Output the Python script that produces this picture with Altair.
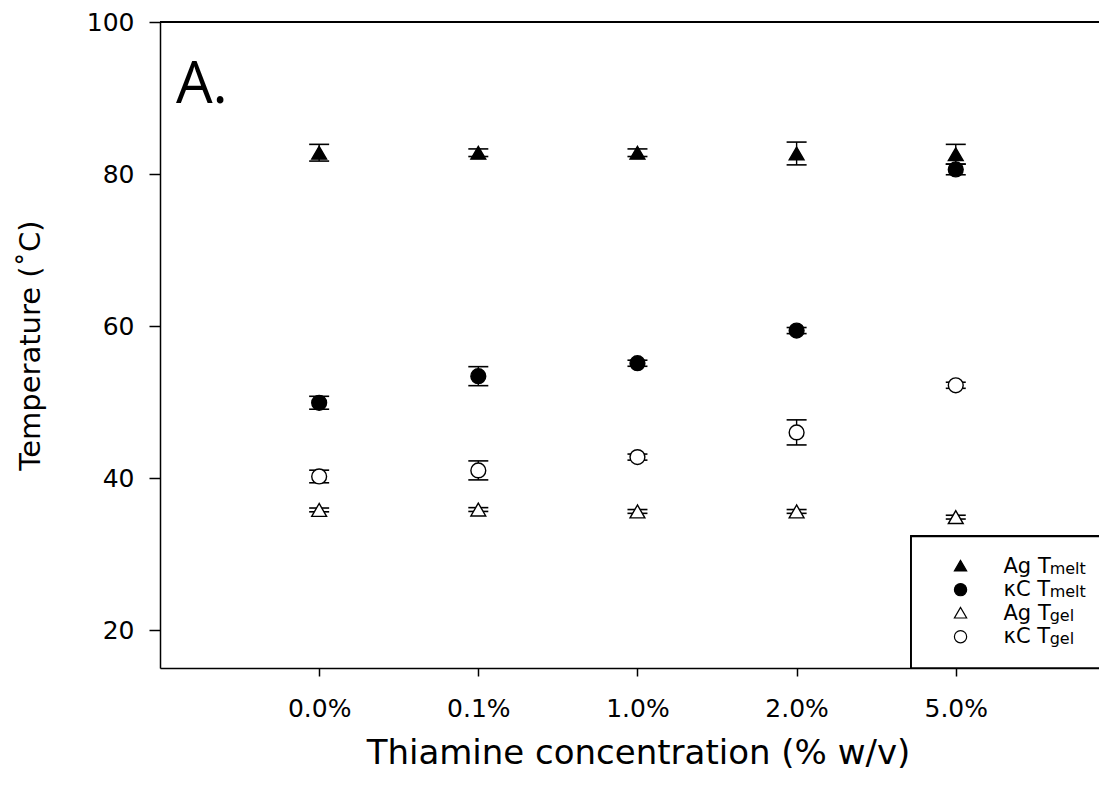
import altair as alt
import pandas as pd

# ---------------- data ----------------
categories = ["0.0%", "0.1%", "1.0%", "2.0%", "5.0%"]
series_names = ["Ag Tmelt", "κC Tmelt", "Ag Tgel", "κC Tgel"]

ag_tmelt = [82.8, 82.8, 82.8, 82.7, 82.6]
ag_tmelt_err = [1.1, 0.5, 0.5, 1.5, 1.3]
kc_tmelt = [49.9, 53.4, 55.1, 59.4, 80.6]
kc_tmelt_err = [0.85, 1.25, 0.4, 0.4, 0.7]
ag_tgel = [35.8, 35.85, 35.6, 35.6, 34.85]
ag_tgel_err = [0.25, 0.25, 0.25, 0.25, 0.25]
kc_tgel = [40.2, 41.0, 42.75, 46.0, 52.2]
kc_tgel_err = [0.83, 1.25, 0.4, 1.65, 0.4]

series_shapes = ["triangle-up", "circle", "triangle-up", "circle"]
series_fills = ["black", "black", "white", "white"]

legend_main = ["Ag T", "κC T", "Ag T", "κC T"]
legend_sub = ["melt", "melt", "gel", "gel"]
legend_sym_x = 4.03
legend_text_x = 4.30
legend_sub_x = 4.59
legend_sym_y = [28.47, 25.31, 22.28, 19.12]
legend_base_y = [27.55, 24.45, 21.36, 18.26]
legend_box = {"x": 3.72, "x2": 5.3, "y": 32.3, "y2": 15}

panel_label = "A."
panel_pos = {"x": -0.9, "y": 89.4}

x_domain = [-1, 4.9]
y_domain = [15, 100]
y_ticks = [20, 40, 60, 80, 100]

# ---------------- tables ----------------
rows = []
for name, vals, errs in zip(series_names,
                            [ag_tmelt, kc_tmelt, ag_tgel, kc_tgel],
                            [ag_tmelt_err, kc_tmelt_err, ag_tgel_err, kc_tgel_err]):
    for i, (v, e) in enumerate(zip(vals, errs)):
        rows.append({"series": name, "xi": i, "cat": categories[i],
                     "value": v, "lo": v - e, "hi": v + e})
df = pd.DataFrame(rows)

leg = pd.DataFrame({
    "series": series_names,
    "sx": [legend_sym_x] * 4,
    "tx": [legend_text_x] * 4,
    "ux": [legend_sub_x] * 4,
    "sy": legend_sym_y,
    "by": legend_base_y,
    "main": legend_main,
    "sub": legend_sub,
})

FONT = "DejaVu Sans"

xscale = alt.Scale(domain=x_domain, nice=False, zero=False)
yscale = alt.Scale(domain=y_domain, nice=False, zero=False)
shape_scale = alt.Scale(domain=series_names, range=series_shapes)
fill_scale = alt.Scale(domain=series_names, range=series_fills)

label_expr = "[" + ",".join("'" + c + "'" for c in categories) + "][datum.value]"

x_axis = alt.Axis(values=list(range(len(categories))), labelExpr=label_expr,
                  grid=False, tickSize=8, tickWidth=1.5, tickColor="black",
                  domainColor="black", domainWidth=1.5,
                  labelFont=FONT, labelFontSize=25, labelColor="black",
                  labelPadding=20, labelFlush=False,
                  titleFont=FONT, titleFontSize=34, titleFontWeight="normal",
                  titleColor="black", titleX=478, titleY=95,
                  titleBaseline="alphabetic", titleAlign="center")
y_axis = alt.Axis(values=y_ticks, grid=False, tickSize=11, tickWidth=1.5,
                  tickColor="black", domainColor="black", domainWidth=1.5,
                  labelFont=FONT, labelFontSize=25, labelColor="black",
                  labelPadding=15, labelFlush=False,
                  titleFont=FONT, titleFontSize=29, titleFontWeight="normal",
                  titleColor="black", titleAngle=270, titleX=-121,
                  titleBaseline="alphabetic", titleAlign="center")

X = alt.X("xi:Q", scale=xscale, axis=x_axis, title="Thiamine concentration (% w/v)")
Y = alt.Y("lo:Q", scale=yscale, axis=y_axis, title="Temperature (˚C)")

base = alt.Chart(df)

err_rule = base.mark_rule(color="black", strokeWidth=1.4).encode(
    x=X, y=Y, y2="hi:Q")
cap_lo = base.mark_rule(color="black", strokeWidth=1.6, xOffset=-10, x2Offset=10).encode(
    x="xi:Q", x2="xi:Q", y="lo:Q")
cap_hi = base.mark_rule(color="black", strokeWidth=1.6, xOffset=-10, x2Offset=10).encode(
    x="xi:Q", x2="xi:Q", y="hi:Q")

points = base.mark_point(filled=True, stroke="black", strokeWidth=1.4, opacity=1,
                         size=220).encode(
    x="xi:Q", y="value:Q",
    shape=alt.Shape("series:N", scale=shape_scale, legend=None),
    fill=alt.Fill("series:N", scale=fill_scale, legend=None),
)

top_line = alt.Chart(df).mark_rule(color="black", strokeWidth=1.5).encode(
    y=alt.datum(y_domain[1]))

box = alt.Chart(df).mark_rect(fill="white", stroke="black", strokeWidth=1.5,
                              clip=True).encode(
    x=alt.datum(legend_box["x"]), x2=alt.datum(legend_box["x2"]),
    y=alt.datum(legend_box["y"]), y2=alt.datum(legend_box["y2"]))

lbase = alt.Chart(leg)
leg_sym = lbase.mark_point(filled=True, stroke="black", strokeWidth=1.2, opacity=1,
                           size=150).encode(
    x="sx:Q", y="sy:Q",
    shape=alt.Shape("series:N", scale=shape_scale, legend=None),
    fill=alt.Fill("series:N", scale=fill_scale, legend=None),
)
leg_txt = lbase.mark_text(align="left", baseline="alphabetic", font=FONT,
                          fontSize=21, color="black").encode(
    x="tx:Q", y="by:Q", text="main:N")
leg_sub = lbase.mark_text(align="left", baseline="alphabetic", font=FONT,
                          fontSize=16, color="black", dy=1).encode(
    x="ux:Q", y="by:Q", text="sub:N")

label = alt.Chart(pd.DataFrame({"t": [panel_label], "x": [panel_pos["x"]],
                                "y": [panel_pos["y"]]})).mark_text(
    align="left", baseline="alphabetic", font="Open Sans", fontSize=58,
    color="black").encode(x="x:Q", y="y:Q", text="t:N")

chart = alt.layer(
    err_rule, cap_lo, cap_hi, points, top_line, box, leg_sym, leg_txt, leg_sub, label
).properties(
    width=939, height=646,
    padding={"left": 152, "top": 14, "right": 0, "bottom": 108},
    autosize=alt.AutoSizeParams(type="none"),
).configure_view(stroke=None).configure(background="white")

chart.save("out.html", embed_options={"renderer": "svg", "actions": False})
